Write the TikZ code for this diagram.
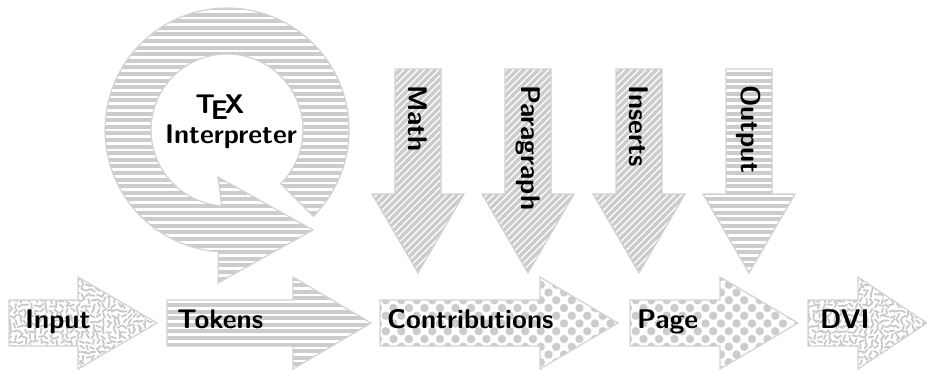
\documentclass[tikz,border=0pt]{standalone}
\usepackage{fontspec}
\tikzset{
  shapeborder/.style={draw=gray!35, line width=1.2pt},
  stripecol/.style={fill=gray!40, draw=none},
  dstripe/.style={draw=gray!40, line width=3.3pt},
  squig/.style={draw=gray!45, line width=1.7pt, line cap=round},
  lbl/.style={font=\fontsize{27}{30}\selectfont\sffamily\bfseries, inner sep=0pt, text=black},
}
% fillers: #1 xmin, #2 xmax, #3 ymin, #4 ymax
\newcommand{\fillH}[4]{\foreach \k in {0,...,57}{\fill[stripecol] (#1-5,{\k*6.6}) rectangle (#2+5,{\k*6.6+4});}}
\newcommand{\fillD}[4]{\foreach \k in {-34,...,16}{\draw[dstripe] ({#1+\k*7},#3) -- ++({#4-#3},{#4-#3});}}
\newcommand{\fillO}[4]{\foreach \i in {0,...,16}{\foreach \j in {0,...,13}{%
  \pgfmathsetmacro\xx{#1+15.5*\i+7.75*mod(\j,2)-2}%
  \fill[stripecol] (\xx,{#3+7.75*\j-1}) circle[radius=4.2];}}}
\newcommand{\fillS}[4]{\foreach \i in {0,...,30}{\foreach \j in {0,...,18}{%
  \pgfmathsetmacro\ang{rnd*360}\pgfmathsetmacro\xx{#1+5.2*\i+rnd*2}\pgfmathsetmacro\yy{#3+5.2*\j+rnd*2}%
  \draw[squig] (\xx,\yy) ++(\ang:-2.4) -- ++(\ang:4.8);}}}
\newcommand{\rarrowshape}[4]{% filler, x left, x head base, x tip
  \begin{scope}
    \clip (#2,27) -- (#3,27) -- (#3,4) -- (#4,50) -- (#3,96) -- (#3,73) -- (#2,73) -- cycle;
    \fill[white] (#2-2,2) rectangle (#4+2,98);
    #1{#2}{#4}{4}{96}
  \end{scope}
  \draw[shapeborder] (#2,27) -- (#3,27) -- (#3,4) -- (#4,50) -- (#3,96) -- (#3,73) -- (#2,73) -- cycle;}
\newcommand{\darrowshape}[2]{% filler, x centre
  \begin{scope}
    \clip (#2-23,304) -- (#2+23,304) -- (#2+23,179) -- (#2+46,179) -- (#2,100) -- (#2-46,179) -- (#2-23,179) -- cycle;
    \fill[white] (#2-48,98) rectangle (#2+48,306);
    #1{#2-46}{#2+46}{100}{304}
  \end{scope}
  \draw[shapeborder] (#2-23,304) -- (#2+23,304) -- (#2+23,179) -- (#2+46,179) -- (#2,100) -- (#2-46,179) -- (#2-23,179) -- cycle;}
\begin{document}
\begin{tikzpicture}[x=1pt,y=1pt]
\pgfmathsetseed{7}
\useasboundingbox (0,0) rectangle (927,373);
% interpreter loop
\begin{scope}
  \clip (313.3,156.7) arc[start angle=-45, end angle=266, radius=122]
    -- (218,90) -- (313,143) -- (218,196) -- (221.7,167.2)
    arc[start angle=266, end angle=-45, radius=76] -- cycle;
  \fill[white] (100,85) rectangle (355,370);
  \fillH{100}{355}{85}{370}
\end{scope}
\draw[shapeborder] (313.3,156.7) arc[start angle=-45, end angle=266, radius=122]
  -- (218,90) -- (313,143) -- (218,196) -- (221.7,167.2)
  arc[start angle=266, end angle=-45, radius=76] -- cycle;
\node[lbl, align=center, anchor=north] (interp) at (231,278.5) {\TeX\hspace*{22pt}\\Interpreter};
% down arrows
\darrowshape{\fillD}{418}
\darrowshape{\fillD}{528}
\darrowshape{\fillD}{639}
\darrowshape{\fillH}{749}
\node[lbl, rotate=-90, anchor=west] (math) at (418,288) {Math};
\node[lbl, rotate=-90, anchor=west] (para) at (528,288) {Paragraph};
\node[lbl, rotate=-90, anchor=west] (ins) at (639,288) {Inserts};
\node[lbl, rotate=-90, anchor=west] (out) at (749,288) {Output};
% bottom arrows
\rarrowshape{\fillS}{9}{78}{157}
\rarrowshape{\fillH}{167}{293}{371}
\rarrowshape{\fillO}{380}{540}{618}
\rarrowshape{\fillO}{630}{720}{798}
\rarrowshape{\fillS}{808}{858}{927}
\node[lbl, anchor=base west] (input) at (25,45) {Input};
\node[lbl, anchor=base west] (tokens) at (177,45) {Tokens};
\node[lbl, anchor=base west] (contrib) at (387,45) {Contributions};
\node[lbl, anchor=base west] (page) at (637,45) {Page};
\node[lbl, anchor=base west] (dvi) at (820,45) {DVI};
\end{tikzpicture}
\end{document}
